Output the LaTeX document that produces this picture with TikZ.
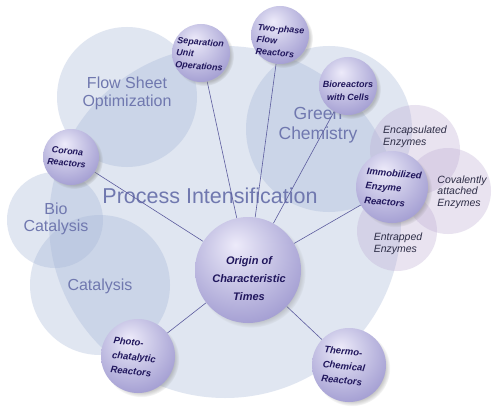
\documentclass[tikz,border=0pt]{standalone}
\usepackage{fontspec}
\setmainfont{Liberation Sans}
\usetikzlibrary{shadows}
\definecolor{bgc}{RGB}{165,182,215}
\definecolor{enz}{RGB}{190,172,212}
\definecolor{lbl}{RGB}{112,120,175}
\definecolor{txt}{RGB}{32,22,92}
\definecolor{etxt}{RGB}{45,45,70}
\definecolor{con}{RGB}{92,92,158}
\pgfdeclareradialshading{spheresh}{\pgfpoint{-6bp}{12bp}}{rgb(0bp)=(0.93,0.92,0.98); rgb(12bp)=(0.82,0.81,0.92); rgb(32bp)=(0.65,0.63,0.83); rgb(52bp)=(0.50,0.48,0.73); rgb(75bp)=(0.42,0.40,0.65)}
\pgfdeclarelayer{bg}
\pgfdeclarelayer{lines}
\pgfsetlayers{bg,lines,main}
\tikzset{
  ball/.style={circle, inner sep=0pt, shading=spheresh,
    circular drop shadow={shadow xshift=3pt, shadow yshift=-3pt, opacity=0.45, shadow scale=1.03}},
  balltext/.style={font=\fontsize{9}{12}\selectfont\bfseries\itshape, text=txt, align=center, inner sep=0pt},
  bigtext/.style={font=\fontsize{16}{17.5}\selectfont, text=lbl, align=center, inner sep=0pt},
  enztext/.style={font=\fontsize{10.5}{11.5}\selectfont\itshape, text=etxt, align=left, inner sep=0pt},
  bgcirc/.style={fill=bgc, fill opacity=0.34},
  enzcirc/.style={fill=enz, fill opacity=0.33},
  conn/.style={draw=con, line width=0.6pt}
}
\begin{document}
\begin{tikzpicture}[x=1pt,y=-1pt]
\useasboundingbox (0,0) rectangle (500,417);
\begin{pgfonlayer}{bg}
\fill[white] (0,0) rectangle (500,417);
\fill[bgcirc] (225,222) circle (176pt);
\fill[bgcirc] (127,97) circle (70pt);
\fill[bgcirc] (329,129) circle (83pt);
\fill[bgcirc] (55,220) circle (48pt);
\fill[bgcirc] (100,285) circle (70pt);
\fill[enzcirc] (415,150) circle (45pt);
\fill[enzcirc] (448,191) circle (43pt);
\fill[enzcirc] (397,231) circle (40pt);
\node[bigtext, font=\fontsize{21.5}{24}\selectfont] (pi) at (210,196) {Process Intensification};
\node[bigtext, font=\fontsize{16}{18}\selectfont] (fso) at (127,93) {Flow Sheet\\Optimization};
\node[bigtext, font=\fontsize{17.5}{20}\selectfont] (gc) at (318,125) {Green\\Chemistry};
\node[bigtext, font=\fontsize{16}{17.5}\selectfont] (bcat) at (56,219) {Bio\\Catalysis};
\node[bigtext] (cat) at (100,286) {Catalysis};
\node[enztext] (encap) at (415,137) {Encapsulated\\Enzymes};
\node[enztext] (coval) at (462,192) {Covalently\\attached\\Enzymes};
\node[enztext] (entr) at (398,244) {Entrapped\\Enzymes};
\end{pgfonlayer}

\node[ball, minimum size=106pt] (origin) at (248,270) {};
\node[ball, minimum size=58pt] (sep) at (201,53) {};
\node[ball, minimum size=58pt] (two) at (280,35) {};
\node[ball, minimum size=58pt] (bio) at (348,86) {};
\node[ball, minimum size=56pt] (cor) at (71,157) {};
\node[ball, minimum size=72pt] (imm) at (392,187) {};
\node[ball, minimum size=74pt] (photo) at (138,356) {};
\node[ball, minimum size=74pt] (thermo) at (349,365) {};

\begin{pgfonlayer}{lines}
\draw[conn] (origin) -- (sep);
\draw[conn] (origin) -- (two);
\draw[conn] (origin) -- (bio);
\draw[conn] (origin) -- (cor);
\draw[conn] (origin) -- (imm);
\draw[conn] (origin) -- (photo);
\draw[conn] (origin) -- (thermo);
\end{pgfonlayer}

\node[balltext, font=\fontsize{11}{18}\selectfont\bfseries\itshape] (origint) at (249,279) {Origin of\\Characteristic\\Times};
\node[balltext, align=left, rotate=-5] (sept) at (200,55) {Separation\\Unit\\Operations};
\node[balltext, align=left, rotate=-5] (twot) at (280,41) {Two-phase\\Flow\\Reactors};
\node[balltext, font=\fontsize{9}{13}\selectfont\bfseries\itshape] (biot) at (348,91) {Bioreactors\\with Cells};
\node[balltext, rotate=-5] (cort) at (67,157) {Corona\\Reactors};
\node[balltext, font=\fontsize{9.5}{14.5}\selectfont\bfseries\itshape, align=left, rotate=-5] (immt) at (393,188) {Immobilized\\Enzyme\\Reactors};
\node[balltext, font=\fontsize{9.5}{14.5}\selectfont\bfseries\itshape, align=left, rotate=-6] (photot) at (134,357) {Photo-\\chatalytic\\Reactors};
\node[balltext, font=\fontsize{9.5}{14.5}\selectfont\bfseries\itshape, align=left, rotate=-6] (thermot) at (344,366) {Thermo-\\Chemical\\Reactors};
\end{tikzpicture}
\end{document}
